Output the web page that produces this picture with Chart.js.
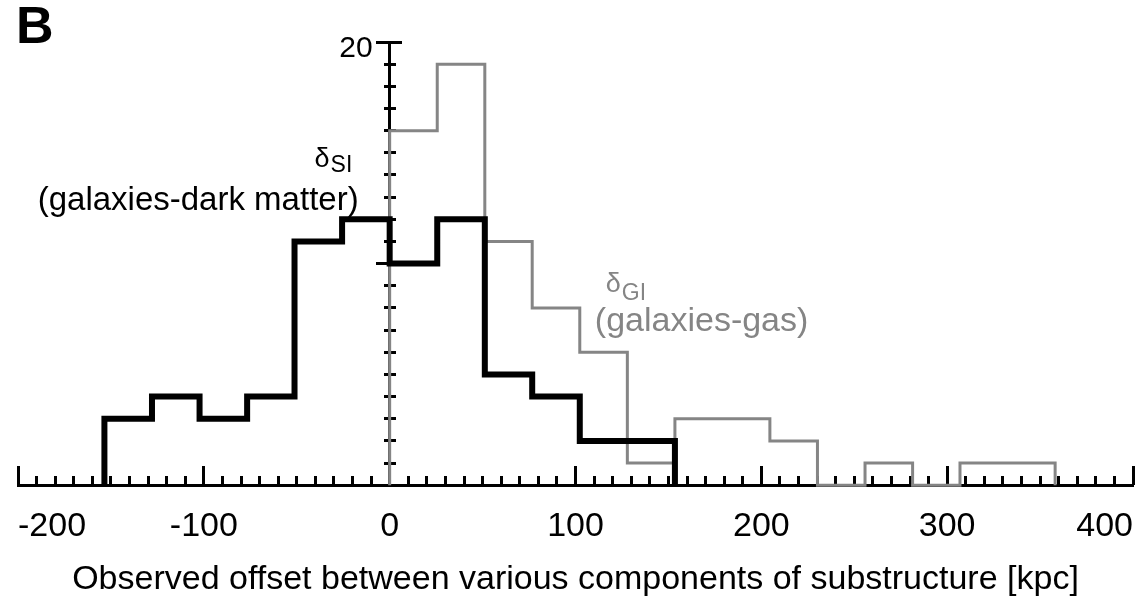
<!DOCTYPE html>
<html>
<head>
<meta charset="utf-8">
<title>Offset histogram</title>
<script src="https://cdn.jsdelivr.net/npm/chart.js@4.4.1/dist/chart.umd.min.js"></script>
<style>
  html, body { margin: 0; padding: 0; background: #fff; }
  canvas { display: block; }
</style>
</head>
<body>
<canvas id="chart" width="1137" height="602"></canvas>
<script>
// galaxy - dark matter offsets (kpc bin edges, counts per bin)
const darkMatterEdges = [-153.5, -127.9, -102.3, -76.7, -51.2, -25.6, 0, 25.6, 51.2, 76.7, 102.3, 127.9, 153.5];
const darkMatterCounts = [3, 4, 3, 4, 11, 12, 10, 12, 5, 4, 2, 2];

// galaxy - gas offsets
const gasEdges = [0, 25.6, 51.2, 76.7, 102.3, 127.9, 153.5, 179.1, 204.6, 230.2, 255.8, 281.4, 306.9, 332.5, 358.1];
const gasCounts = [16, 19, 11, 8, 6, 1, 3, 3, 2, 0, 1, 0, 1, 1];

const xRange = [-200, 400];
const yRange = [0, 20];
const yLabelledTicks = [20];

const axisTitle = "Observed offset between various components of substructure [kpc]";
const panelLetter = "B";
const darkMatterLabel = ["SI", "(galaxies-dark matter)"];
const gasLabel = ["GI", "(galaxies-gas)"];

const BLACK = "#000";
const GREY = "#858585";
const FONT = "'Liberation Sans', Arial, Helvetica, sans-serif";

Chart.defaults.font.family = FONT;

// outline of a histogram: up from zero at the first edge, across each bin, back down at the last edge
const stepPoints = (edges, counts) => {
  const points = [{ x: edges[0], y: 0 }];
  counts.forEach((c, i) => points.push({ x: edges[i], y: c }));
  points.push({ x: edges[edges.length - 1], y: 0 });
  return points;
};

// axes that only carry tick marks (negative length = ticks point into the plot)
const tickAxis = (axis, range, step, length) => ({
  type: "linear",
  axis,
  position: axis === "x" ? { y: 0 } : { x: 0 },
  min: range[0],
  max: range[1],
  grid: { drawOnChartArea: false, tickLength: length, tickWidth: 3, tickColor: BLACK },
  border: { display: false },
  ticks: { display: false, stepSize: step, autoSkip: false },
});

const drawDelta = (ctx, px, py, sub, drop, color) => {
  ctx.fillStyle = color;
  ctx.textAlign = "left";
  ctx.textBaseline = "alphabetic";
  ctx.font = `27px ${FONT}`;
  ctx.fillText("δ", px, py);
  const w = ctx.measureText("δ").width;
  ctx.font = `23px ${FONT}`;
  ctx.fillText(sub, px + w + 1, py + drop);
};

const labels = {
  id: "labels",
  afterDraw(chart) {
    const { ctx, scales: { x, y } } = chart;
    ctx.save();
    ctx.textBaseline = "alphabetic";

    ctx.fillStyle = BLACK;
    ctx.font = `bold 52px ${FONT}`;
    ctx.textAlign = "left";
    ctx.fillText(panelLetter, 16, 43);

    // y tick labels sit left of the wide tick bar
    ctx.font = `30px ${FONT}`;
    ctx.textAlign = "right";
    yLabelledTicks.forEach((v) => {
      ctx.fillText(String(v), x.getPixelForValue(0) - 17, y.getPixelForValue(v) + 15);
    });

    drawDelta(ctx, x.getPixelForValue(-40.4), y.getPixelForValue(14.36), darkMatterLabel[0], 5, BLACK);
    ctx.font = `33px ${FONT}`;
    ctx.textAlign = "right";
    ctx.fillText(darkMatterLabel[1], x.getPixelForValue(-16.7), y.getPixelForValue(12.4));

    drawDelta(ctx, x.getPixelForValue(116.3), y.getPixelForValue(8.71), gasLabel[0], 8, GREY);
    ctx.font = `34px ${FONT}`;
    ctx.textAlign = "left";
    ctx.fillText(gasLabel[1], x.getPixelForValue(110.4), y.getPixelForValue(6.95));

    ctx.restore();
  },
};

new Chart(document.getElementById("chart"), {
  type: "line",
  data: {
    datasets: [
      {
        data: stepPoints(darkMatterEdges, darkMatterCounts),
        borderColor: BLACK,
        borderWidth: 6,
        stepped: "before",
        pointRadius: 0,
        borderJoinStyle: "miter",
        clip: false,
      },
      {
        data: stepPoints(gasEdges, gasCounts),
        borderColor: GREY,
        borderWidth: 3,
        stepped: "before",
        pointRadius: 0,
        borderJoinStyle: "miter",
        clip: false,
      },
    ],
  },
  options: {
    responsive: false,
    animation: false,
    events: [],
    layout: { padding: { left: 18, right: 4, top: 42, bottom: 0 } },
    plugins: {
      legend: { display: false },
      tooltip: { enabled: false },
      title: {
        display: true,
        position: "bottom",
        text: axisTitle,
        color: BLACK,
        font: { size: 34, weight: "normal" },
        padding: { top: 74, bottom: 2 },
      },
    },
    scales: {
      x: {
        type: "linear",
        position: { y: 0 },
        min: xRange[0],
        max: xRange[1],
        grid: { drawOnChartArea: false, drawTicks: false },
        border: { display: true, width: 3, color: BLACK },
        ticks: {
          stepSize: 100,
          autoSkip: false,
          maxRotation: 0,
          align: "inner",
          padding: 4,
          color: BLACK,
          font: { size: 34, lineHeight: 2.2 },
          callback: (v) => String(v),
        },
      },
      xMajor: tickAxis("x", xRange, 100, -19),
      xMinor: tickAxis("x", xRange, 10, -9),
      y: {
        type: "linear",
        position: { x: 0 },
        min: yRange[0],
        max: yRange[1],
        grid: { drawOnChartArea: false, tickLength: 12, tickWidth: 3, tickColor: BLACK },
        border: { display: true, width: 3, color: BLACK },
        ticks: { display: false, stepSize: 10, autoSkip: false },
      },
      yMajorRight: tickAxis("y", yRange, 10, -12),
      yMinorLeft: tickAxis("y", yRange, 1, 6),
      yMinorRight: tickAxis("y", yRange, 1, -6),
    },
  },
  plugins: [labels],
});
</script>
</body>
</html>
